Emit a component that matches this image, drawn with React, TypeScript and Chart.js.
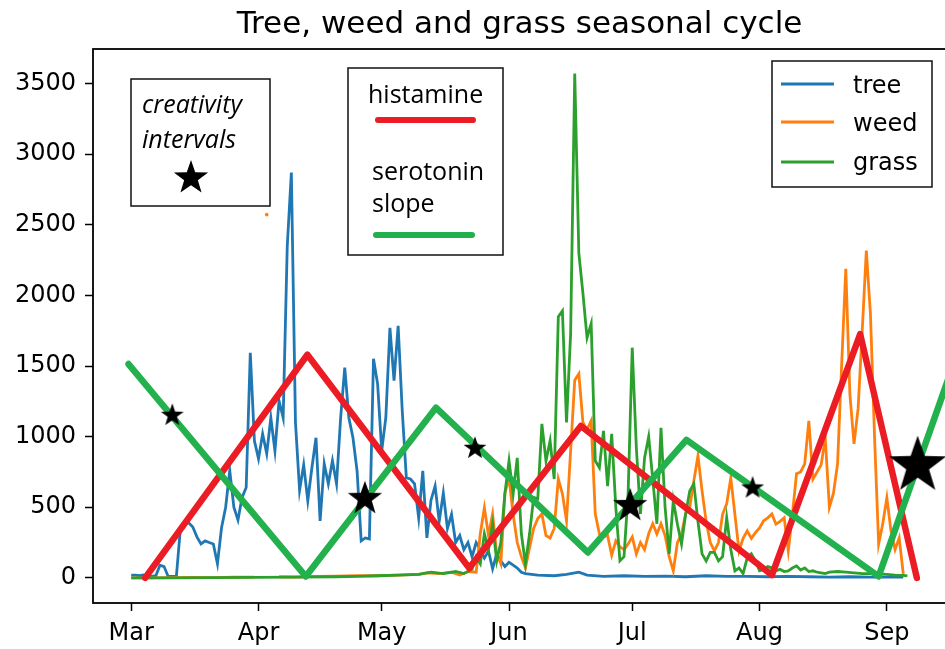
import React, { useEffect, useRef } from 'react';
import { Chart, registerables } from 'chart.js';

Chart.register(...registerables);

// ---------- axis ticks ----------
const monthLabels = ['Mar', 'Apr', 'May', 'Jun', 'Jul', 'Aug', 'Sep'];
const monthStartDays = [0, 31, 61, 92, 122, 153, 184]; // days since 1 Mar
const yTickValues = [0, 500, 1000, 1500, 2000, 2500, 3000, 3500];
const titleText = 'Tree, weed and grass seasonal cycle';

// ---------- pollen series (day since 1 Mar, count) ----------
const treeDays = [0, 1, 2, 3, 4, 5, 6, 7, 8, 9, 10, 11, 12, 13, 14, 15, 16, 17, 18, 19, 20, 21, 22, 23, 24, 25, 26, 27, 28, 29, 30, 31, 32, 33, 34, 35, 36, 37, 38, 39, 40, 41, 42, 43, 44, 45, 46, 47, 48, 49, 50, 51, 52, 53, 54, 55, 56, 57, 58, 59, 60, 61, 62, 63, 64, 65, 66, 67, 68, 69, 70, 71, 72, 73, 74, 75, 76, 77, 78, 79, 80, 81, 82, 83, 84, 85, 86, 87, 88, 89, 90, 91, 92, 93, 94, 95, 96, 99, 103, 106, 109, 111, 115, 120, 125, 130, 135, 140, 145, 150, 155, 160, 165, 170, 175, 180, 185, 188];
const treeValues = [20, 20, 15, 20, 10, 10, 15, 90, 80, 10, 10, 10, 355, 380, 390, 360, 290, 240, 262, 250, 240, 100, 355, 500, 760, 500, 410, 570, 640, 1594, 970, 843, 1020, 880, 1134, 900, 1254, 1134, 2350, 2870, 1100, 620, 800, 546, 780, 992, 404, 808, 666, 829, 666, 1134, 1488, 1134, 992, 758, 262, 283, 276, 1551, 1374, 900, 1134, 1771, 1396, 1785, 1183, 708, 700, 666, 425, 758, 283, 550, 650, 400, 600, 350, 450, 250, 300, 200, 250, 150, 250, 200, 140, 190, 64, 170, 120, 80, 110, 90, 70, 40, 30, 20, 15, 25, 40, 20, 10, 15, 10, 12, 8, 15, 10, 10, 8, 10, 8, 5, 8, 5, 5, 5];

const weedDays = [0, 5, 10, 15, 20, 25, 30, 32, 33, 34, 36, 40, 45, 50, 55, 60, 65, 70, 72, 75, 78, 80, 82, 84, 85, 86, 87, 88, 89, 90, 91, 92, 93, 94, 95, 96, 97, 98, 99, 100, 101, 102, 103, 104, 105, 106, 107, 108, 109, 110, 111, 112, 113, 114, 115, 116, 117, 118, 119, 120, 121, 122, 123, 124, 125, 126, 127, 128, 129, 130, 131, 132, 133, 134, 135, 136, 137, 138, 139, 140, 141, 142, 143, 144, 145, 146, 147, 148, 149, 150, 151, 152, 153, 154, 155, 156, 157, 158, 159, 160, 161, 162, 163, 164, 165, 166, 167, 168, 169, 170, 171, 172, 173, 174, 175, 176, 177, 178, 179, 180, 181, 182, 183, 184, 185, 186, 187, 188];
const weedValues = [0, 0, 2, 3, 2, 5, 5, null, 2572, null, 8, 6, 10, 12, 15, 15, 20, 25, 35, 30, 40, 20, 45, 40, 312, 496, 300, 453, 170, 100, 600, 708, 450, 250, 150, 71, 213, 350, 420, 453, 300, 283, 350, 700, 595, 404, 900, 1400, 1445, 1100, 1050, 1112, 453, 312, 290, 300, 160, 262, 220, 200, 240, 290, 170, 250, 200, 312, 383, 310, 383, 300, 150, 50, 250, 312, 453, 500, 687, 864, 616, 400, 250, 191, 250, 450, 524, 708, 450, 191, 280, 333, 280, 320, 354, 404, 425, 453, 380, 400, 425, 191, 450, 737, 750, 808, 1112, 700, 750, 800, 992, 500, 600, 808, 1516, 2189, 1300, 949, 1200, 1750, 2317, 1871, 1000, 240, 383, 567, 333, 200, 283, 28];

const grassDays = [0, 10, 20, 30, 40, 50, 55, 60, 65, 70, 73, 76, 79, 81, 83, 84, 85, 86, 87, 88, 89, 90, 91, 92, 93, 94, 95, 96, 97, 98, 99, 100, 101, 102, 103, 104, 105, 106, 107, 108, 109, 110, 111, 112, 113, 114, 115, 116, 117, 118, 119, 120, 121, 122, 123, 124, 125, 126, 127, 128, 129, 130, 131, 132, 133, 134, 135, 136, 137, 138, 139, 140, 141, 142, 143, 144, 145, 146, 147, 148, 149, 150, 151, 152, 153, 154, 155, 156, 157, 158, 159, 160, 161, 162, 163, 164, 165, 166, 167, 168, 169, 170, 172, 174, 176, 178, 180, 182, 184, 186, 188, 189];
const grassValues = [0, 0, 2, 3, 5, 8, 10, 15, 20, 25, 40, 30, 45, 30, 60, 150, 100, 312, 200, 380, 120, 250, 600, 829, 595, 850, 312, 99, 312, 570, 560, 1091, 829, 970, 700, 1850, 1890, 1100, 1729, 3571, 2300, 2012, 1700, 1800, 829, 780, 1041, 650, 1020, 500, 120, 150, 600, 1630, 921, 453, 850, 1000, 700, 383, 1063, 500, 170, 546, 380, 240, 450, 616, 666, 400, 170, 120, 180, 180, 120, 150, 425, 200, 50, 70, 30, 142, 170, 120, 50, 60, 80, 71, 50, 60, 45, 50, 70, 85, 55, 70, 45, 50, 40, 35, 30, 40, 45, 40, 35, 30, 30, 28, 25, 20, 18, 14];

// ---------- hand-drawn overlays ----------
const histamineDays = [3.4, 42.9, 82.3, 109.5, 156, 177.5, 191.3];
const histamineValues = [0, 1580, 70, 1075, 20, 1726, 0];
const serotoninDays = [-0.65, 42.5, 74.2, 111.2, 135.2, 182, 202];
const serotoninValues = [1514, 10, 1205, 180, 977, 10, 1660];
const starDays = [10, 56.9, 83.7, 121.5, 151.3, 191.5];
const starValues = [1155, 567, 921, 517, 640, 805];
const starSizes = [12, 18, 12, 18, 12, 30];

const TREE = '#1f77b4';
const WEED = '#ff7f0e';
const GRASS = '#2ca02c';
const RED = '#ec1c24';
const PAINT_GREEN = '#22b14c';

function starPath(ctx: CanvasRenderingContext2D, cx: number, cy: number, r: number) {
  const inner = r * 0.4;
  ctx.beginPath();
  for (let i = 0; i < 10; i++) {
    const rad = i % 2 === 0 ? r : inner;
    const a = -Math.PI / 2 + (i * Math.PI) / 5;
    const x = cx + rad * Math.cos(a);
    const y = cy + rad * Math.sin(a);
    if (i === 0) ctx.moveTo(x, y);
    else ctx.lineTo(x, y);
  }
  ctx.closePath();
}

function makeStar(r: number): HTMLCanvasElement {
  const c = document.createElement('canvas');
  const s = Math.ceil(2 * r + 4);
  c.width = s;
  c.height = s;
  const ctx = c.getContext('2d')!;
  ctx.fillStyle = '#000';
  starPath(ctx, s / 2, s / 2 + r * 0.05, r);
  ctx.fill();
  return c;
}

function pts(days: number[], vals: (number | null)[]) {
  return days.map((d, i) => ({ x: d, y: vals[i] }));
}

const overlayPlugin = {
  id: 'overlay',
  afterDraw(chart: any) {
    const ctx: CanvasRenderingContext2D = chart.ctx;
    const a = chart.chartArea;
    ctx.save();
    // frame
    ctx.strokeStyle = '#000';
    ctx.lineWidth = 1.8;
    ctx.strokeRect(a.left, a.top, a.right - a.left, a.bottom - a.top);
    // title
    ctx.fillStyle = '#000';
    ctx.font = '31px "DejaVu Sans"';
    ctx.textAlign = 'center';
    ctx.textBaseline = 'alphabetic';
    ctx.fillText(titleText, (a.left + a.right) / 2, 33);

    // box 1: creativity intervals
    ctx.fillStyle = '#fff';
    ctx.fillRect(131, 79, 139, 127);
    ctx.strokeStyle = '#111';
    ctx.lineWidth = 1.5;
    ctx.strokeRect(131, 79, 139, 127);
    ctx.fillStyle = '#000';
    ctx.textAlign = 'left';
    ctx.font = 'italic 25px "Open Sans"';
    ctx.fillText('creativity', 142, 113);
    ctx.fillText('intervals', 142, 148);
    starPath(ctx, 191, 178, 18);
    ctx.fill();

    // box 2: histamine / serotonin slope
    ctx.fillStyle = '#fff';
    ctx.fillRect(348, 68, 155, 187);
    ctx.strokeRect(348, 68, 155, 187);
    ctx.fillStyle = '#000';
    ctx.font = '25px "Open Sans"';
    ctx.fillText('histamine', 368, 103);
    ctx.fillText('serotonin', 372, 180);
    ctx.fillText('slope', 372, 212);
    ctx.lineCap = 'round';
    ctx.lineWidth = 6;
    ctx.strokeStyle = RED;
    ctx.beginPath();
    ctx.moveTo(378, 120);
    ctx.lineTo(473, 120);
    ctx.stroke();
    ctx.strokeStyle = PAINT_GREEN;
    ctx.beginPath();
    ctx.moveTo(376, 235);
    ctx.lineTo(472, 235);
    ctx.stroke();

    // box 3: legend
    ctx.lineCap = 'butt';
    ctx.fillStyle = '#fff';
    ctx.fillRect(772, 61, 160, 126);
    ctx.strokeStyle = '#111';
    ctx.lineWidth = 1.5;
    ctx.strokeRect(772, 61, 160, 126);
    const items = [
      ['tree', TREE, 84, 93],
      ['weed', WEED, 122, 131],
      ['grass', GRASS, 162, 170],
    ] as const;
    ctx.font = '24px "DejaVu Sans"';
    for (const [label, col, ly, by] of items) {
      ctx.strokeStyle = col;
      ctx.lineWidth = 3;
      ctx.beginPath();
      ctx.moveTo(781, ly);
      ctx.lineTo(834, ly);
      ctx.stroke();
      ctx.fillStyle = '#000';
      ctx.fillText(label, 853, by);
    }
    ctx.restore();
  },
};

export default function App() {
  const ref = useRef<HTMLCanvasElement>(null);

  useEffect(() => {
    const canvas = ref.current!;
    const weedData = pts(weedDays, weedValues);
    const weedRadius = weedData.map((p, i) => {
      const prev = weedData[i - 1];
      const next = weedData[i + 1];
      return p.y !== null && prev && next && prev.y === null && next.y === null ? 1.8 : 0;
    });
    const stars = starSizes.map((r) => makeStar(r));

    const chart = new Chart(canvas, {
      type: 'line',
      data: {
        datasets: [
          {
            label: 'stars',
            data: pts(starDays, starValues),
            showLine: false,
            pointStyle: stars as any,
            pointRadius: 1,
            pointHoverRadius: 0,
            pointBorderWidth: 0,
            order: 0,
            clip: false as any,
          },
          {
            label: 'serotonin slope',
            data: pts(serotoninDays, serotoninValues),
            borderColor: PAINT_GREEN,
            borderWidth: 6.5,
            borderCapStyle: 'round',
            borderJoinStyle: 'round',
            pointRadius: 0,
            pointHoverRadius: 0,
            order: 1,
            clip: 0 as any,
          },
          {
            label: 'histamine',
            data: pts(histamineDays, histamineValues),
            borderColor: RED,
            borderWidth: 6.5,
            borderCapStyle: 'round',
            borderJoinStyle: 'round',
            pointRadius: 0,
            pointHoverRadius: 0,
            order: 2,
            clip: 0 as any,
          },
          {
            label: 'grass',
            data: pts(grassDays, grassValues),
            borderColor: GRASS,
            borderWidth: 2.8,
            pointRadius: 0,
            pointHoverRadius: 0,
            order: 3,
            clip: 0 as any,
          },
          {
            label: 'weed',
            data: weedData,
            borderColor: WEED,
            backgroundColor: WEED,
            borderWidth: 2.8,
            pointRadius: weedRadius,
            pointHoverRadius: 0,
            pointBorderWidth: 0,
            spanGaps: false,
            order: 4,
            clip: 0 as any,
          },
          {
            label: 'tree',
            data: pts(treeDays, treeValues),
            borderColor: TREE,
            borderWidth: 2.8,
            pointRadius: 0,
            pointHoverRadius: 0,
            order: 5,
            clip: 0 as any,
          },
        ] as any,
      },
      options: {
        animation: false,
        responsive: false,
        devicePixelRatio: 1,
        events: [],
        layout: { padding: { top: 49, right: 1, left: 0, bottom: 0 } },
        plugins: {
          legend: { display: false },
          tooltip: { enabled: false },
          title: { display: false },
        },
        scales: {
          x: {
            type: 'linear',
            min: -9.3,
            max: 198.4,
            afterBuildTicks: (s: any) => {
              s.ticks = monthStartDays.map((v) => ({ value: v }));
            },
            afterFit: (s: any) => {
              s.height = 46;
              s.paddingLeft = 0;
              s.paddingRight = 0;
            },
            ticks: {
              autoSkip: false,
              maxRotation: 0,
              color: '#000',
              padding: 8,
              font: { family: 'DejaVu Sans', size: 24 },
              callback: (_v: any, i: number) => monthLabels[i],
            },
            grid: {
              drawOnChartArea: false,
              drawTicks: true,
              tickLength: 8,
              tickColor: '#000',
              tickWidth: 1.5,
            },
            border: { display: false },
          },
          y: {
            type: 'linear',
            min: -178,
            max: 3745,
            afterBuildTicks: (s: any) => {
              s.ticks = yTickValues.map((v) => ({ value: v }));
            },
            afterFit: (s: any) => {
              s.width = 93;
              s.paddingTop = 0;
              s.paddingBottom = 0;
            },
            ticks: {
              color: '#000',
              padding: 9,
              font: { family: 'DejaVu Sans', size: 24 },
              callback: (v: any) => String(v),
            },
            grid: {
              drawOnChartArea: false,
              drawTicks: true,
              tickLength: 8,
              tickColor: '#000',
              tickWidth: 1.5,
            },
            border: { display: false },
          },
        },
      } as any,
      plugins: [overlayPlugin],
    });
    return () => chart.destroy();
  }, []);

  return (
    <div style={{ position: 'absolute', left: 0, top: 0, width: 945, height: 649, background: '#fff', overflow: 'hidden' }}>
      <canvas ref={ref} width={947} height={649} style={{ display: 'block' }} />
    </div>
  );
}
